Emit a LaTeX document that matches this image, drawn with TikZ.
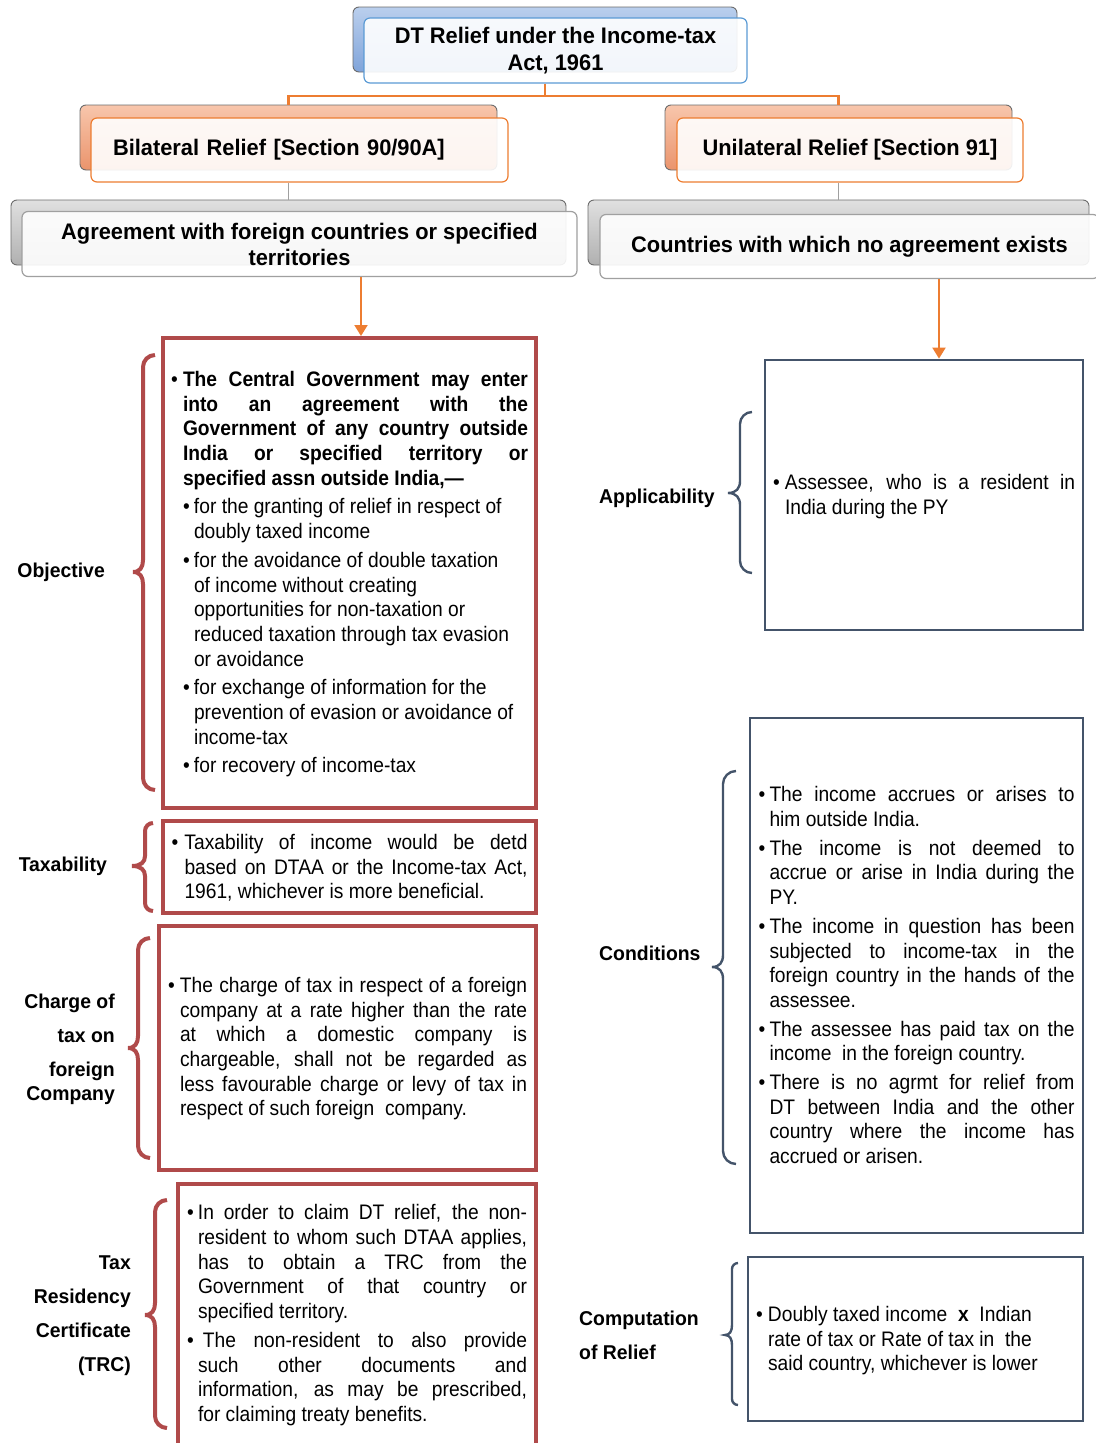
\documentclass[tikz,border=0pt]{standalone}
\usepackage{fontspec}
\setmainfont{Liberation Sans}[FakeStretch=0.97]
\newfontfamily\bodyfam{Liberation Sans}[FakeStretch=0.915]
\usetikzlibrary{arrows.meta,calc}

\definecolor{redb}{RGB}{176,74,74}
\definecolor{navyb}{RGB}{68,84,106}
\definecolor{orng}{RGB}{237,125,49}
\definecolor{blueb}{RGB}{91,155,213}
\definecolor{bluet}{RGB}{186,207,237}
\definecolor{blueB}{RGB}{128,164,218}
\definecolor{orT}{RGB}{248,198,172}
\definecolor{orB}{RGB}{234,148,108}
\definecolor{grT}{RGB}{224,224,224}
\definecolor{grB}{RGB}{176,176,176}
\definecolor{grL}{RGB}{160,160,160}

\newcommand\bodyfont{\bodyfam\fontsize{21}{24.7}\selectfont\tolerance=10000\hbadness=10000\hyphenpenalty=10000\exhyphenpenalty=10000}
\newcommand\headfont{\bfseries\fontsize{22.5}{27}\selectfont}
\newcommand\labfont{\bfseries\fontsize{20}{24}\selectfont}

% justified bullet paragraph: #1 left skip, #2 bullet indent, #3 text
\newcommand\bj[3]{\par\parskip=4pt\spaceskip=0pt\xspaceskip=0pt\leftskip=#1\rightskip=0pt\parfillskip=0pt plus 1fil\hangindent=#2\hangafter=1\noindent\hbox to #2{\textbullet\hfil}#3\par}
% ragged bullet paragraph
\newcommand\br[3]{\par\parskip=4pt\spaceskip=0pt\xspaceskip=0pt\leftskip=#1\rightskip=0pt plus 1fil\parfillskip=0pt plus 1fil\hangindent=#2\hangafter=1\noindent\hbox to #2{\textbullet\hfil}#3\par}
% extra depth at the foot of a box text (moves the centred text up)
\newcommand\tailfix[1][12pt]{\par\nointerlineskip\hbox{\vrule width0pt height0pt depth#1}}

% brace opening to the right: #1 style, #2 x (right end), #3 ytop, #4 ytip, #5 ybot, #6 hook, #7 depth, #8 tip transition
\newcommand\cbrace[8]{%
\draw[#1] (#2,#3) .. controls ({#2-0.55*#6},#3) and ({#2-#6},{#3+0.45*#6}) .. ({#2-#6},{#3+#6})
 -- ({#2-#6},{#4-#8})
 .. controls ({#2-#6},{#4-0.4*#8}) and ({#2-#6-0.3*(#7-#6)},#4) .. ({#2-#7},#4)
 .. controls ({#2-#6-0.3*(#7-#6)},#4) and ({#2-#6},{#4+0.4*#8}) .. ({#2-#6},{#4+#8})
 -- ({#2-#6},{#5-#6})
 .. controls ({#2-#6},{#5-0.45*#6}) and ({#2-0.55*#6},#5) .. (#2,#5);}

\begin{document}
\begin{tikzpicture}[x=1pt,y=-1pt,
  back/.style={draw=gray!85!black, line width=0.9pt, rounded corners=6pt, inner sep=0pt},
  front/.style={line width=1.2pt, rounded corners=6pt, fill=white, fill opacity=0.9, text opacity=1, inner sep=0pt, font=\headfont, align=center},
  rbox/.style={draw=redb, line width=4pt, inner sep=0pt, font=\bodyfont, align=justify},
  nbox/.style={draw=navyb, line width=2.8pt, inner sep=0pt, font=\bodyfont, align=justify},
  oline/.style={draw=orng, line width=2.5pt},
  gline/.style={draw=grL, line width=1.6pt},
  oarr/.style={draw=orng, line width=2pt, -{Triangle[width=13pt,length=11pt]}},
  rbr/.style={draw=redb, line width=4pt},
  nbr/.style={draw=navyb, line width=2.4pt},
  lab/.style={inner sep=0pt, font=\labfont}
]
\useasboundingbox (0,0) rectangle (1095,1443);

% ---------- header boxes ----------
\node[back, top color=bluet, bottom color=blueB, minimum width=384, minimum height=65] (titleB) at (545,39.5) {};
\node[front, draw=blueb, minimum width=383, minimum height=65] (title) at (555.5,50.5) {DT Relief under the Income-tax\\Act, 1961};

\node[back, top color=orT, bottom color=orB, minimum width=417, minimum height=65] (bilB) at (288.5,137.5) {};
\node[front, draw=orng, text width=373, inner xsep=22pt, minimum height=64, align=left] (bil) at (299.5,150) {Bilateral Relief [Section 90/90A]};

\node[back, top color=orT, bottom color=orB, minimum width=347, minimum height=65] (uniB) at (838.5,137.5) {};
\node[front, draw=orng, minimum width=346, minimum height=64] (uni) at (850,150) {Unilateral Relief [Section 91]};

\node[back, top color=grT, bottom color=grB, minimum width=555, minimum height=65] (agrB) at (288.5,232.5) {};
\node[front, draw=grL, minimum width=555, minimum height=65] (agr) at (299.5,244) {Agreement with foreign countries or specified\\[-1pt]territories};

\node[back, top color=grT, bottom color=grB, minimum width=501, minimum height=65] (ctyB) at (838.5,232.5) {};
\node[front, draw=grL, minimum width=499, minimum height=64] (cty) at (849.5,246.5) {Countries with which no agreement exists};

% ---------- connectors ----------
\coordinate (split) at (545,96);
\draw[oline] (titleB.center |- title.south) -- (split);
\draw[oline] (split) -| (bilB.north);
\draw[oline] (split) -| (uniB.north);
\draw[gline] (bilB.center |- bil.south) -- (bilB.center |- agrB.north);
\draw[gline] (uniB.center |- uni.south) -- (uniB.center |- ctyB.north);

% ---------- left content boxes ----------
\node[rbox, minimum width=373, minimum height=470, text width=357] (obj) at (349.5,573) {%
\bj{0pt}{12pt}{\textbf{The Central Government may enter\linebreak into an agreement with the\linebreak Government of any country outside\linebreak India or specified territory or\linebreak specified assn outside India,—}}%
\br{12pt}{11pt}{for the granting of relief in respect of\linebreak doubly taxed income}%
\br{12pt}{11pt}{for the avoidance of double taxation\linebreak of income without creating\linebreak opportunities for non-taxation or\linebreak reduced taxation through tax evasion\linebreak or avoidance}%
\br{12pt}{11pt}{for exchange of information for the\linebreak prevention of evasion or avoidance of\linebreak income-tax}%
\br{12pt}{11pt}{for recovery of income-tax}\tailfix[11pt]};

\node[rbox, minimum width=373, minimum height=90, text width=356] (tax) at (349.5,867) {%
\bj{0pt}{13pt}{Taxability of income would be detd\linebreak based on DTAA or the Income-tax Act,\linebreak 1961, whichever is more beneficial.}\tailfix};

\node[rbox, minimum width=377, minimum height=244, text width=359] (chg) at (347.5,1048) {%
\bj{0pt}{12pt}{The charge of tax in respect of a foreign\linebreak company at a rate higher than the rate\linebreak at which a domestic company is\linebreak chargeable, shall not be regarded as\linebreak less favourable charge or levy of tax in\linebreak respect of such foreign\ \ company.}\tailfix};

\node[rbox, minimum width=358, minimum height=261, text width=340] (trc) at (357,1314.5) {%
\bj{0pt}{11pt}{In order to claim DT relief, the non-\linebreak resident to whom such DTAA applies,\linebreak has to obtain a TRC from the\linebreak Government of that country or\linebreak specified territory.}%
\bj{0pt}{11pt}{\hspace{5pt}The non-resident to also provide\linebreak such other documents and\linebreak information, as may be prescribed,\linebreak for claiming treaty benefits.}\tailfix};

% ---------- right content boxes ----------
\node[nbox, minimum width=318, minimum height=270, text width=302] (app) at (924,495) {%
\bj{0pt}{12pt}{Assessee, who is a resident in\linebreak India during the PY}\tailfix[10pt]};

\node[nbox, minimum width=333, minimum height=515, text width=316] (cond) at (916.5,975.5) {%
\bj{0pt}{11pt}{The income accrues or arises to\linebreak him outside India.}%
\bj{0pt}{11pt}{The income is not deemed to\linebreak accrue or arise in India during the\linebreak PY.}%
\bj{0pt}{11pt}{The income in question has been\linebreak subjected to income-tax in the\linebreak foreign country in the hands of the\linebreak assessee.}%
\bj{0pt}{11pt}{The assessee has paid tax on the\linebreak income\ \ in the foreign country.}%
\bj{0pt}{11pt}{There is no agrmt for relief from\linebreak DT between India and the other\linebreak country where the income has\linebreak accrued or arisen.}\tailfix[14pt]};

\node[nbox, minimum width=335, minimum height=164, text width=319] (comp) at (915.5,1339) {%
\br{0pt}{12pt}{Doubly taxed income\ \ \textbf{x}\ \ Indian\linebreak rate of tax or Rate of tax in\ \ the\linebreak said country, whichever is lower}\tailfix[10pt]};

% ---------- arrows ----------
\draw[oarr] ($(agr.south -| obj.north)+(11.5,0)$) -- ($(obj.north)+(11.5,0)$);
\draw[oarr] ($(cty.south -| app.north)+(15,0)$) -- ($(app.north)+(15,0)$);

% ---------- braces ----------
\cbrace{rbr}{155}{355}{572}{790}{12}{22}{12}
\cbrace{rbr}{153}{823}{866}{911}{8}{21}{10}
\cbrace{rbr}{150}{938}{1048}{1158}{12}{22}{12}
\cbrace{rbr}{167}{1200}{1315}{1428}{12}{22}{12}
\cbrace{nbr}{752}{412}{493}{573}{12}{24}{12}
\cbrace{nbr}{736}{771}{967}{1164}{13}{24}{12}
\cbrace{nbr}{738}{1263}{1335}{1405}{6}{13}{10}

% ---------- labels ----------
\node[lab, anchor=east] (lobj) at (105,572) {Objective};
\node[lab, anchor=east] (ltax) at (107,866) {Taxability};
\node[lab, anchor=east, align=right] (lchg) at (115,1049) {Charge of\\[10pt]tax on\\[10pt]foreign\\Company};
\node[lab, anchor=east, align=right] (ltrc) at (131,1316) {Tax\\[10pt]Residency\\[10pt]Certificate\\[10pt](TRC)};
\node[lab, anchor=west] (lapp) at (599,498) {Applicability};
\node[lab, anchor=west] (lcond) at (599,953) {Conditions};
\node[lab, anchor=west, align=left] (lcomp) at (579,1335) {Computation\\[10pt]of Relief};
\end{tikzpicture}
\end{document}
